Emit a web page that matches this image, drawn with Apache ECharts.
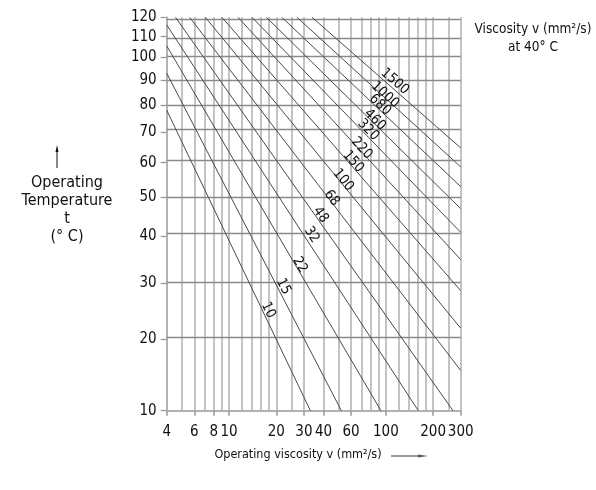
<!DOCTYPE html>
<html><head><meta charset="utf-8">
<script src="https://cdn.jsdelivr.net/npm/echarts@6/dist/echarts.min.js"></script>
<style>html,body{margin:0;padding:0;background:#fff}#c{width:596px;height:490px}</style>
</head><body><div id="c"></div>
<script>
// ---- data ----
const xGrid = [4,5,6,7,8,9,10,12,14,16,18,20,25,30,40,50,60,70,80,90,100,120,140,160,180,200,250,300];
const xTicks = [4,6,8,10,20,30,40,60,100,200,300];
const yTicks = [10,20,30,40,50,60,70,80,90,100,110,120];
const grades = ['10','15','22','32','48','68','100','150','220','320','460','680','1000','1500'];
// [viscosity, temperature] where each line meets the chart border
const lineStart = [[4,78],[4,93],[4,105.5],[4,116],[4.55,120],[5.6,120],[7.06,120],[9.0,120],[11.4,120],[14.0,120],[17.3,120],[21.7,120],[27.1,120],[33.8,120]];
const lineEnd = [[33,10],[52,10],[93,10],[161,10],[268,10],[300,15.3],[300,21.8],[300,28.5],[300,34.8],[300,41],[300,46.9],[300,52.9],[300,58.7],[300,64.7]];
// [viscosity, temperature] where each grade label sits
const labelAt = [[17.8,24.9],[22.2,29.3],[28.3,33.7],[33.6,40.4],[38.4,45.3],[45.1,49.7],[53.5,54.8],[62,60.3],[70.1,64.6],[77.2,70.8],[85.2,74.4],[91.7,80],[98.6,83.9],[114,89.4]];

// temperature scale of the chart (shifted logarithm)
const T_SHIFT = 22.4;
const tScale = t => Math.log10(t + T_SHIFT);
const tInv = u => Math.pow(10, u) - T_SHIFT;

const FONT = "'Liberation Sans Narrow','Arial Narrow','DejaVu Sans Condensed',sans-serif";
const chart = echarts.init(document.getElementById('c'), null, {renderer:'canvas'});

const gridMarks = [
  ...xGrid.map(v => ({xAxis: v, lineStyle:{color:'#b4b4b4', width:1.6, type:'solid'}})),
  ...yTicks.map(t => ({yAxis: tScale(t), lineStyle:{color:'#8a8a8a', width:1.3, type:'solid'}}))
];

const series = grades.map((g, i) => ({
  type: 'line',
  name: g,
  data: [[lineStart[i][0], tScale(lineStart[i][1])], [lineEnd[i][0], tScale(lineEnd[i][1])]],
  showSymbol: false, symbol: 'none', silent: true, z: 3,
  lineStyle: {color:'#4a4a4a', width:1},
  markPoint: {
    symbol: 'rect', symbolSize: 0, silent: true, z: 6,
    data: [{coord: [labelAt[i][0], tScale(labelAt[i][1])], value: g}],
    label: {show:true, position:'inside', formatter: g, color:'#111', fontSize:14, fontFamily: FONT, rotate: -50}
  }
}));
series[0].markLine = {silent:true, symbol:['none','none'], z:1, animation:false, label:{show:false}, data: gridMarks};

const option = {
  animation: false,
  grid: {left: 166.7, top: 17.3, right: 596-460.7, bottom: 490-410.7, containLabel:false},
  xAxis: {
    type:'log', logBase:10, min:4, max:300,
    axisLine:{show:true, onZero:false, lineStyle:{color:'#999', width:1.5}},
    axisTick:{show:true, inside:false, length:5, customValues: xTicks, lineStyle:{color:'#999', width:1.5}},
    axisLabel:{show:true, customValues: xTicks, margin:14, color:'#111', fontSize:15, fontFamily:FONT, formatter: v => String(Math.round(v))},
    splitLine:{show:false}, minorTick:{show:false}, minorSplitLine:{show:false}
  },
  yAxis: {
    type:'value', min: tScale(10), max: tScale(120),
    axisLine:{show:true, onZero:false, lineStyle:{color:'#999', width:1.5}},
    axisTick:{show:true, inside:false, length:6, customValues: yTicks.map(tScale), lineStyle:{color:'#999', width:1.3}},
    axisLabel:{show:true, customValues: yTicks.map(tScale), margin:10, color:'#111', fontSize:15, fontFamily:FONT, formatter: v => String(Math.round(tInv(v)))},
    splitLine:{show:false}
  },
  graphic: [
    {type:'text', x: 533, y: 22, style:{text:'Viscosity v (mm\u00b2/s)', font:'13.5px '+FONT, fill:'#111', align:'center'}},
    {type:'text', x: 533, y: 40, style:{text:'at 40\u00b0 C', font:'13.5px '+FONT, fill:'#111', align:'center'}},
    {type:'text', x: 67, y: 174, style:{text:'Operating\nTemperature\nt\n(\u00b0 C)', font:'16px '+FONT, fill:'#111', align:'center', lineHeight:18}},
    {type:'line', shape:{x1:57, y1:168, x2:57, y2:150}, style:{stroke:'#111', lineWidth:1}},
    {type:'polygon', shape:{points:[[57,145],[55.5,152],[58.5,152]]}, style:{fill:'#111'}},
    {type:'text', x: 298, y: 448, style:{text:'Operating viscosity v (mm\u00b2/s)', font:'12.5px '+FONT, fill:'#111', align:'center'}},
    {type:'line', shape:{x1:391, y1:456, x2:420, y2:456}, style:{stroke:'#555', lineWidth:1.2}},
    {type:'polygon', shape:{points:[[428,456],[418,454.5],[418,457.5]]}, style:{fill:'#555'}}
  ],
  series
};
chart.setOption(option);

// rotate grade labels along their lines
const upd = grades.map((g, i) => {
  const a = chart.convertToPixel({gridIndex:0}, [lineStart[i][0], tScale(lineStart[i][1])]);
  const b = chart.convertToPixel({gridIndex:0}, [lineEnd[i][0], tScale(lineEnd[i][1])]);
  const ang = Math.atan2(b[1]-a[1], b[0]-a[0]) * 180 / Math.PI;
  return {markPoint:{label:{rotate: -ang}}};
});
chart.setOption({series: upd});
</script></body></html>
